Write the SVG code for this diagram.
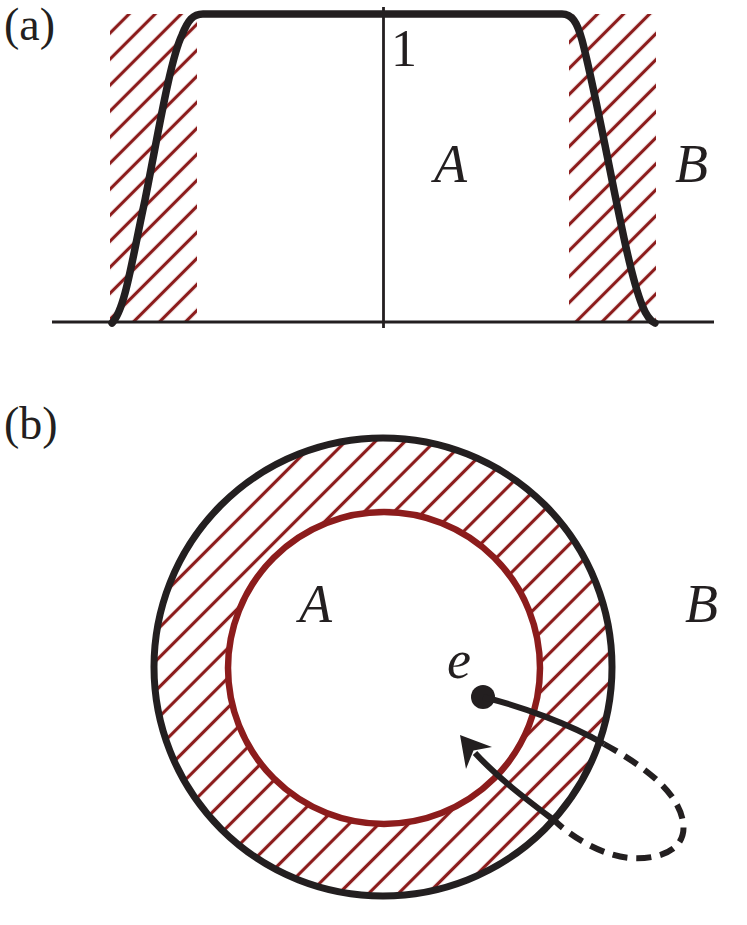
<svg xmlns="http://www.w3.org/2000/svg" width="747" height="925" viewBox="0 0 747 925">
<style>
.lbl{font-family:"Liberation Serif","DejaVu Serif",serif;fill:#231f20}
.it{font-style:italic;font-size:54px}
.ax{stroke:#231f20;stroke-width:2.8;fill:none}
.thick{stroke:#231f20;stroke-width:7.5;fill:none;stroke-linecap:round;stroke-linejoin:round}
.loop{stroke:#231f20;stroke-width:6;fill:none}
</style>
<defs>
<pattern id="hatchA" patternUnits="userSpaceOnUse" width="18.4" height="18.4" patternTransform="rotate(-45)">
<line x1="-2" y1="9.2" x2="21" y2="9.2" stroke="#8c1c1c" stroke-width="3.2"/>
</pattern>
<pattern id="hatchB" patternUnits="userSpaceOnUse" width="21" height="21" patternTransform="rotate(-45)">
<line x1="-2" y1="10.5" x2="23" y2="10.5" stroke="#8c1c1c" stroke-width="3.2"/>
</pattern>
<clipPath id="annulus">
<path clip-rule="evenodd" d="M154,667 A229,229 0 1,0 612,667 A229,229 0 1,0 154,667 Z M228,668 A156,156 0 1,1 540,668 A156,156 0 1,1 228,668 Z"/>
</clipPath>
</defs>
<rect width="747" height="925" fill="#ffffff"/>

<g id="panel-a">
<text class="lbl" x="4" y="40" font-size="46">(a)</text>
<rect id="hatch-left" x="110" y="14" width="87" height="308" fill="url(#hatchA)"/>
<rect id="hatch-right" x="569" y="14" width="87" height="308" fill="url(#hatchA)"/>
<line class="ax" x1="52" y1="322" x2="714" y2="322"/>
<line class="ax" x1="383.5" y1="7" x2="383.5" y2="328"/>
<path class="thick" d="M112,323 C125,310 132,260 145,200 C158,135 170,60 182,35 C188,20 193,14 203,14 L562,14 C572,14 577,22 582,40 C590,70 600,120 610,170 C622,230 632,280 642,305 C646,315 650,321 655,323"/>
<text class="lbl" x="391" y="66" font-size="52">1</text>
<text class="lbl it" x="434" y="182">A</text>
<text class="lbl it" x="675" y="182">B</text>
</g>

<g id="panel-b">
<text class="lbl" x="4" y="439" font-size="46">(b)</text>
<rect x="140" y="430" width="480" height="480" fill="url(#hatchB)" clip-path="url(#annulus)"/>
<circle id="region-B-boundary" cx="383" cy="667" r="229" fill="none" stroke="#231f20" stroke-width="7"/>
<circle id="region-A-boundary" cx="384" cy="668" r="156" fill="none" stroke="#8c1c1c" stroke-width="6.5"/>
<text class="lbl it" x="299" y="622">A</text>
<text class="lbl it" x="685" y="622">B</text>
<g id="node-e">
<circle cx="483" cy="697" r="12" fill="#231f20"/>
<text class="lbl it" x="447" y="678">e</text>
</g>
</g>

<g id="connectors">
<path class="loop" d="M483,697 C520,706 570,724 604,744"/>
<path class="loop" stroke-dasharray="15 9" d="M604,744 C640,764 678,790 683,822 C688,852 655,860 630,858 C605,856 575,840 555,821"/>
<path class="loop" d="M555,821 C530,802 500,780 475,753"/>
<path d="M460,735 L492,747 L473.5,750.5 L466,769 Z" fill="#231f20"/>
</g>
</svg>
